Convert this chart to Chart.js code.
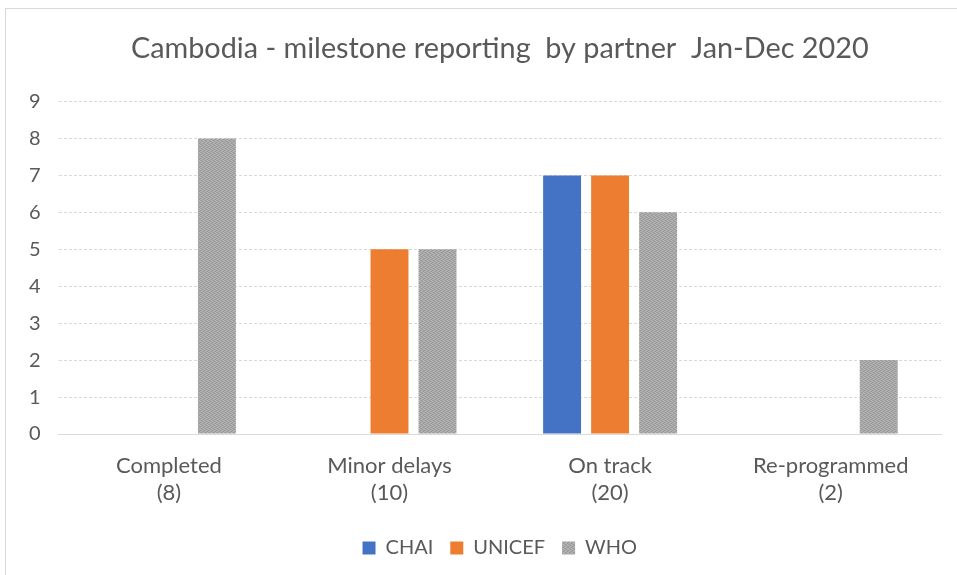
<!DOCTYPE html>
<html>
<head>
<meta charset="utf-8">
<script src="https://cdn.jsdelivr.net/npm/chart.js@4/dist/chart.umd.min.js"></script>
<style>
  html, body { margin: 0; padding: 0; background: #fff; }
  #frame { position: absolute; left: 5px; top: 8px; width: 960px; height: 572px; border: 1px solid #d9d9d9; box-sizing: border-box; }
  #wrap { position: absolute; left: 0; top: 0; width: 952px; height: 566px; }
</style>
</head>
<body>
<div id="frame"><div id="wrap"><canvas id="milestoneChart"></canvas></div></div>
<script>
// Milestone counts per partner, Jan-Dec 2020
const categories = [['Completed', '(8)'], ['Minor delays', '(10)'], ['On track', '(20)'], ['Re-programmed', '(2)']];
const chaiValues = [null, null, 7, null];
const unicefValues = [null, 5, 7, null];
const whoValues = [8, 5, 6, 2];
const yTicks = [0, 1, 2, 3, 4, 5, 6, 7, 8, 9];

const FONT = 'Lato, "Liberation Sans", sans-serif';
const TEXT = '#595959';

// fine dithered grey fill for the WHO bars
function greyPattern() {
  const c = document.createElement('canvas');
  c.width = 4; c.height = 4;
  const g = c.getContext('2d');
  g.fillStyle = '#a8a8a8';
  g.fillRect(0, 0, 4, 4);
  g.fillStyle = '#969696';
  [[0, 0], [2, 1], [1, 2], [3, 3]].forEach(([x, y]) => g.fillRect(x, y, 1, 1));
  g.fillStyle = '#b6b6b6';
  [[2, 0], [0, 1], [3, 2], [1, 3]].forEach(([x, y]) => g.fillRect(x, y, 1, 1));
  return g.createPattern(c, 'repeat');
}

const ctx = document.getElementById('milestoneChart');
new Chart(ctx, {
  type: 'bar',
  data: {
    labels: categories,
    datasets: [
      { label: 'CHAI', data: chaiValues, backgroundColor: '#4472c4' },
      { label: 'UNICEF', data: unicefValues, backgroundColor: '#ed7d31' },
      { label: 'WHO', data: whoValues, backgroundColor: greyPattern() }
    ]
  },
  options: {
    responsive: true,
    maintainAspectRatio: false,
    animation: false,
    datasets: { bar: { categoryPercentage: 0.653, barPercentage: 0.79 } },
    layout: { padding: { left: 5, right: 17, top: 0, bottom: 7 } },
    plugins: {
      title: {
        display: true,
        fullSize: false,
        text: 'Cambodia - milestone reporting  by partner  Jan-Dec 2020',
        color: TEXT,
        font: { family: FONT, size: 28.8, weight: 'normal' },
        padding: { top: 22, bottom: 36 }
      },
      legend: {
        position: 'bottom',
        fullSize: false,
        labels: {
          color: TEXT,
          font: { family: FONT, size: 20 },
          boxWidth: 13, boxHeight: 13, padding: 17
        }
      },
      tooltip: { enabled: false }
    },
    scales: {
      x: {
        grid: { display: false },
        border: { display: true, color: '#d9d9d9', dash: [3, 2] },
        ticks: { color: TEXT, font: { family: FONT, size: 22, lineHeight: 1.25 }, padding: 10, maxRotation: 0 },
        // a little extra room under the category labels
        afterFit: axis => { axis.height += 4; }
      },
      y: {
        min: 0, max: 9,
        afterBuildTicks: axis => { axis.ticks = yTicks.map(v => ({ value: v })); },
        grid: { color: '#d9d9d9', tickLength: 0 },
        border: { display: false, dash: [3, 2] },
        ticks: { color: TEXT, font: { family: FONT, size: 20 }, padding: 18 }
      }
    }
  }
});
</script>
</body>
</html>
